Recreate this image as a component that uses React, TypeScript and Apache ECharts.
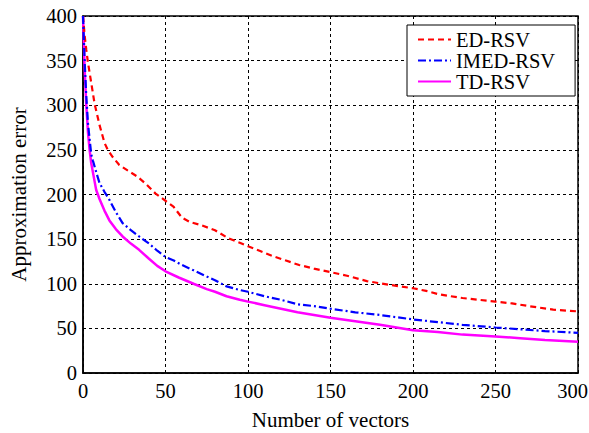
import React, { useEffect, useRef } from "react";
import * as echarts from "echarts";

const seriesNames = ["ED-RSV", "IMED-RSV", "TD-RSV"];

const edRsv: [number, number][] = [
  [0, 400], [1, 378], [2, 362], [3, 348], [5, 325], [7, 302], [10, 278], [13, 258], [15, 250],
  [18, 242], [22, 233], [27, 227], [33, 220], [38, 212], [44, 201], [50, 193], [55, 186],
  [60, 174], [65, 169], [71, 166], [80, 160], [88, 151], [95, 146], [100, 142], [107, 137],
  [115, 131], [123, 126], [131, 121], [140, 117], [150, 113], [160, 109], [172, 103],
  [185, 99], [200, 95], [208, 92], [216, 88], [230, 84], [250, 80], [260, 78], [270, 75],
  [285, 71], [300, 69],
];

const imedRsv: [number, number][] = [
  [0, 400], [1, 350], [2, 310], [3, 280], [5, 245], [6, 238], [8, 225], [10, 213], [13, 203],
  [16, 194], [20, 180], [24, 168], [29, 160], [34, 153], [40, 145], [45, 137], [50, 130],
  [55, 126], [60, 121], [67, 115], [75, 108], [80, 104], [87, 97], [95, 93], [100, 91],
  [110, 86], [120, 82], [130, 77], [140, 75], [150, 72], [165, 68], [180, 65], [200, 60],
  [215, 57], [230, 54], [250, 51], [265, 49], [280, 47], [300, 45],
];

const tdRsv: [number, number][] = [
  [0, 400], [1, 340], [2, 300], [3, 270], [4, 250], [5, 235], [7, 215], [8, 205], [10, 195],
  [13, 182], [16, 171], [20, 161], [24, 153], [29, 145], [34, 138], [40, 128], [45, 120],
  [50, 114], [58, 107], [67, 100], [75, 94], [80, 91], [87, 86], [95, 82], [100, 80],
  [110, 76], [120, 72], [130, 68], [140, 65], [150, 62], [165, 58], [180, 54], [200, 48],
  [215, 46], [230, 43], [250, 41], [265, 39], [280, 37], [300, 35],
];

const X_MAX = 300;
const FONT = "Liberation Serif, Times New Roman, serif";

export default function App() {
  const ref = useRef<HTMLDivElement>(null);
  useEffect(() => {
    if (!ref.current) return;
    const chart = echarts.init(ref.current, undefined, { renderer: "svg" });
    const splitLine = { show: true, lineStyle: { color: "#000", type: [3, 3], width: 1 } };
    chart.setOption({
      animation: false,
      backgroundColor: "#fff",
      textStyle: { fontFamily: FONT },
      grid: {
        left: 83, top: 16, right: 11, bottom: 60,
        containLabel: false,
        outerBoundsMode: "none",
        show: true, borderColor: "#000", borderWidth: 1.5, backgroundColor: "transparent",
      },
      legend: {
        orient: "vertical",
        left: 407,
        top: 25,
        padding: [4, 20, 4, 10],
        itemWidth: 33,
        itemHeight: 14,
        itemGap: 0,
        backgroundColor: "#fff",
        borderColor: "#000",
        borderWidth: 1,
        borderRadius: 0,
        itemStyle: { color: "rgba(0,0,0,0)", borderColor: "rgba(0,0,0,0)", borderWidth: 0, opacity: 0 },
        textStyle: { fontFamily: FONT, fontSize: 20.5, color: "#000", lineHeight: 20.5 },
        data: seriesNames,
      },
      xAxis: {
        type: "value",
        min: 0, max: X_MAX, interval: 50,
        name: "Number of vectors",
        nameLocation: "middle",
        nameGap: 38,
        nameTextStyle: { fontFamily: FONT, fontSize: 21, color: "#000", lineHeight: 18 },
        axisLine: { show: true, lineStyle: { color: "#000", width: 1.5 } },
        axisTick: { show: false },
        axisLabel: {
          fontFamily: FONT, fontSize: 20.5, color: "#000", margin: 7,
          formatter: (v: number) => (v === X_MAX ? `{last|${v}}` : `${v}`),
          rich: { last: { fontFamily: FONT, fontSize: 20.5, color: "#000", padding: [0, 11, 0, 0] } },
        },
        splitLine,
      },
      yAxis: {
        type: "value",
        min: 0, max: 400, interval: 50,
        name: "Approximation error",
        nameLocation: "middle",
        nameGap: 54,
        nameTextStyle: { fontFamily: FONT, fontSize: 21, color: "#000" },
        axisLine: { show: true, lineStyle: { color: "#000", width: 1.5 } },
        axisTick: { show: false },
        axisLabel: { fontFamily: FONT, fontSize: 20.5, color: "#000", margin: 6 },
        splitLine,
      },
      series: [
        {
          name: seriesNames[0], type: "line", data: edRsv, symbol: "none",
          lineStyle: { color: "#ff0000", width: 2.2, type: [6, 4] },
          itemStyle: { color: "#ff0000" }, z: 3,
        },
        {
          name: seriesNames[1], type: "line", data: imedRsv, symbol: "none",
          lineStyle: { color: "#0000ff", width: 2.2, type: [8, 3, 2, 3] },
          itemStyle: { color: "#0000ff" }, z: 4,
        },
        {
          name: seriesNames[2], type: "line", data: tdRsv, symbol: "none",
          lineStyle: { color: "#ff00ff", width: 2.5, type: "solid" },
          itemStyle: { color: "#ff00ff" }, z: 2,
        },
      ],
    });
    return () => chart.dispose();
  }, []);
  return <div ref={ref} style={{ width: 589, height: 433, position: "absolute", left: 0, top: 0 }} />;
}
